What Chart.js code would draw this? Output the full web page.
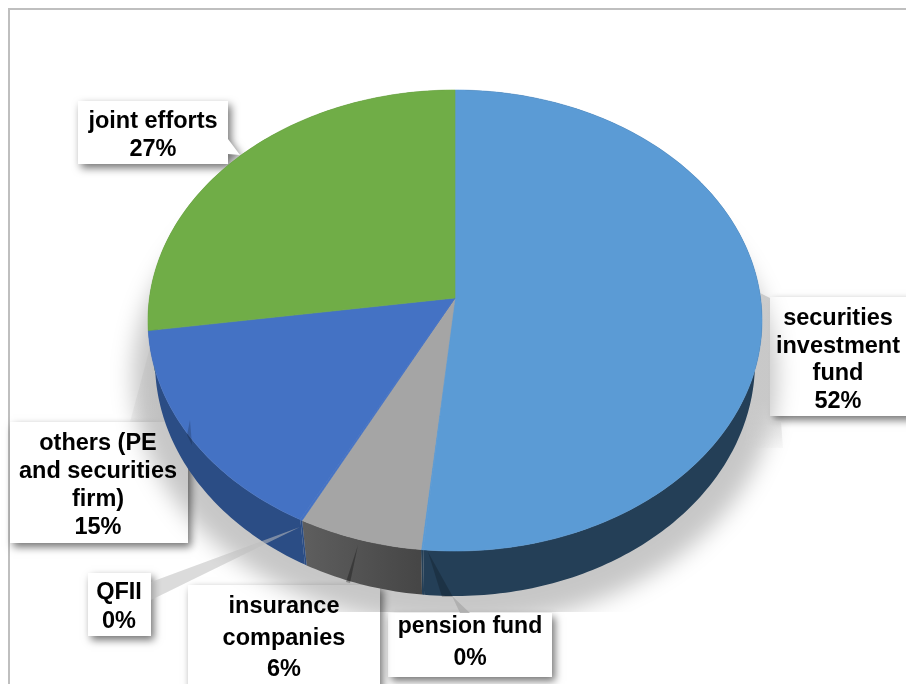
<!DOCTYPE html>
<html>
<head>
<meta charset="utf-8">
<style>
  html, body { margin: 0; padding: 0; background: #fff; overflow: hidden; }
  #wrap { position: relative; width: 906px; height: 684px; overflow: hidden; }
  #frame { position: absolute; left: 8px; top: 8px; width: 1000px; height: 800px; border: 2px solid #bfbfbf; }
  #chart { position: absolute; left: 0; top: 0; }
</style>
</head>
<body>
<div id="wrap">
  <div id="frame"></div>
  <canvas id="chart" width="906" height="684"></canvas>
</div>
<script src="https://cdn.jsdelivr.net/npm/chart.js@4/dist/chart.umd.min.js"></script>
<script>
// --- Data ---
const categories = ['securities investment fund', 'pension fund', 'insurance companies', 'QFII', 'others (PE and securities firm)', 'joint efforts'];
const shares = [51.5, 0.1, 5.95, 0.1, 15.1, 27.25];
const labelLines = [['securities', 'investment', 'fund'], ['pension fund'], ['insurance', 'companies'], ['QFII'], ['others (PE', 'and securities', 'firm)'], ['joint efforts']];
const topColors = ['#5b9bd5', '#5b9bd5', '#a5a5a5', '#4472c4', '#4472c4', '#70ad47'];
const wallColors = ['#243f57', '#243f57', '#4e4e4e', '#2b4d85', '#2b4d85', '#43682b'];

// --- Label boxes (x, y, w, h, text centre, first line, line step) ---
const boxes = [
  {x: 770, y: 297, w: 150, h: 119, cx: 838, ty: 319, step: 27.5},
  {x: 388, y: 613, w: 164, h: 64, cx: 470, ty: 627, step: 32},
  {x: 188, y: 585, w: 192, h: 110, cx: 284, ty: 607, step: 31.5},
  {x: 88, y: 573, w: 63, h: 63, cx: 119, ty: 593, step: 29},
  {x: 10, y: 422, w: 178, h: 121, cx: 98, ty: 444, step: 28},
  {x: 78, y: 101, w: 150, h: 63, cx: 153, ty: 122, step: 28}
];

// Perspective: the top face is a tilted circle, its apex sits above the ellipse centre
function makeProjection(cx, top, apex, bottom, rx) {
  const d = apex - top, e = bottom - apex;
  const b = (d - e) / (d + e);
  const A = e * (1 + b);
  const B = rx * Math.sqrt(1 - b * b);
  return (angle) => {
    const u = Math.cos(angle), v = Math.sin(angle);
    const w = 1 + b * v;
    return [cx + B * u / w, apex + A * v / w];
  };
}
const topFace = makeProjection(455, 90, 298, 551, 307);
const baseFace = makeProjection(455, 128, 341, 596, 300);
const shadowFace = makeProjection(455, 128, 350, 626, 322);

function traceArc(ctx, proj, a0, a1, moveFirst) {
  const n = Math.max(2, Math.ceil(Math.abs(a1 - a0) * 60));
  for (let i = 0; i <= n; i++) {
    const p = proj(a0 + (a1 - a0) * i / n);
    if (i === 0 && moveFirst) ctx.moveTo(p[0], p[1]); else ctx.lineTo(p[0], p[1]);
  }
}

function poly(ctx, pts, fill) {
  ctx.beginPath();
  pts.forEach((p, i) => { if (i) ctx.lineTo(p[0], p[1]); else ctx.moveTo(p[0], p[1]); });
  ctx.closePath();
  ctx.fillStyle = fill;
  ctx.fill();
}

function grad(ctx, x0, y0, x1, y1, c0, c1) {
  const g = ctx.createLinearGradient(x0, y0, x1, y1);
  g.addColorStop(0, c0);
  g.addColorStop(1, c1);
  return g;
}

// Chart.js computes the slice angles, this plugin paints them as a 3D tilted pie
const tiltedPie = {
  id: 'tiltedPie',
  beforeDatasetsDraw(chart) {
    const ctx = chart.ctx;
    const arcs = chart.getDatasetMeta(0).data;

    // label boxes
    ctx.save();
    ctx.shadowColor = 'rgba(0,0,0,0.55)';
    ctx.shadowBlur = 8;
    ctx.shadowOffsetX = 3;
    ctx.shadowOffsetY = 4;
    ctx.fillStyle = '#fff';
    boxes.forEach((b, i) => {
      if (i === 5) return;
      ctx.fillRect(b.x, b.y, b.w, b.h);
    });
    poly(ctx, [[78, 101], [228, 101], [228, 139], [240, 155], [228, 154], [228, 164], [78, 164]], '#fff');
    ctx.restore();

    // soft shadow under the pie, cut off at the bottom like the source image
    ctx.save();
    ctx.beginPath();
    ctx.rect(0, 0, 906, 612);
    ctx.clip();
    ctx.filter = 'blur(11px)';
    ctx.beginPath();
    traceArc(ctx, shadowFace, 0, Math.PI * 2, true);
    ctx.closePath();
    ctx.fillStyle = 'rgba(0,0,0,0.22)';
    ctx.fill();
    ctx.restore();

    // wedges behind the pie
    poly(ctx, [[758, 292], [770, 298], [770, 420], [781, 422], [783, 448], [745, 448]], grad(ctx, 0, 400, 0, 448, 'rgba(200,200,200,0.9)', 'rgba(205,205,205,0.1)'));
    poly(ctx, [[152, 340], [130, 422], [188, 422]], grad(ctx, 130, 0, 170, 0, 'rgba(190,190,190,0.15)', 'rgba(190,190,190,0.9)'));

    // side wall
    arcs.forEach((arc, i) => {
      ctx.beginPath();
      traceArc(ctx, topFace, arc.startAngle, arc.endAngle, true);
      traceArc(ctx, baseFace, arc.endAngle, arc.startAngle, false);
      ctx.closePath();
      ctx.fillStyle = i === 2 ? grad(ctx, 303, 0, 423, 0, '#5e5e5e', '#454545') : wallColors[i];
      ctx.fill();
    });

    // top face
    arcs.forEach((arc, i) => {
      ctx.beginPath();
      ctx.moveTo(455, 298);
      traceArc(ctx, topFace, arc.startAngle, arc.endAngle, false);
      ctx.closePath();
      ctx.fillStyle = topColors[i];
      ctx.strokeStyle = topColors[i];
      ctx.lineWidth = 0.6;
      ctx.fill();
      ctx.stroke();
    });

    // leader wedges in front of the wall
    poly(ctx, [[151, 582], [262, 541], [300, 527], [151, 600]], 'rgba(190,190,190,0.55)');
    poly(ctx, [[358, 545], [350, 583], [346, 582]], 'rgba(0,0,0,0.3)');
    poly(ctx, [[428, 552], [453, 597], [442, 597]], 'rgba(0,0,0,0.2)');
    poly(ctx, [[452, 596], [470, 613], [460, 613]], 'rgba(170,170,170,0.8)');
    poly(ctx, [[190, 420], [187, 435], [192, 445]], 'rgba(0,0,0,0.18)');

    // label text
    ctx.fillStyle = '#000';
    ctx.textAlign = 'center';
    ctx.textBaseline = 'middle';
    boxes.forEach((b, i) => {
      ctx.font = 'bold ' + (i === 1 ? 23 : 23.5) + 'px "Liberation Sans", Arial, sans-serif';
      const lines = labelLines[i].concat(Math.round(shares[i]) + '%');
      lines.forEach((t, k) => ctx.fillText(t, b.cx, b.ty + k * b.step));
    });
    return false;
  }
};

new Chart(document.getElementById('chart').getContext('2d'), {
  type: 'pie',
  data: {
    labels: categories,
    datasets: [{ data: shares, backgroundColor: topColors, borderWidth: 0 }]
  },
  options: {
    responsive: false,
    animation: false,
    plugins: { legend: { display: false }, tooltip: { enabled: false } }
  },
  plugins: [tiltedPie]
});
</script>
</body>
</html>
